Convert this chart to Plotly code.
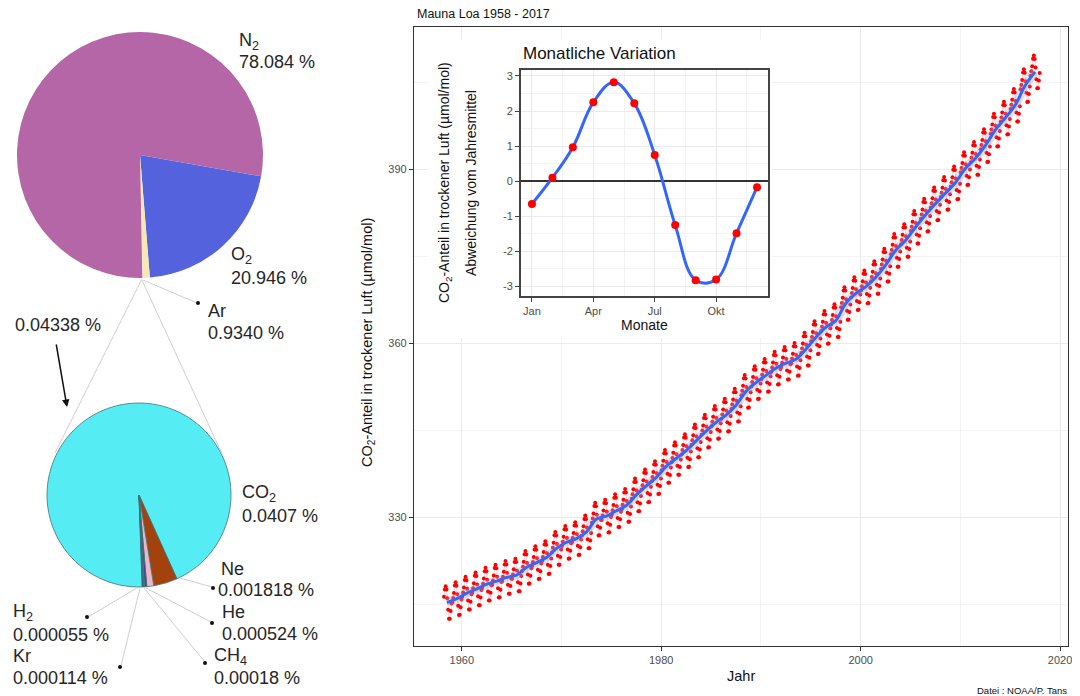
import plotly.graph_objects as go

# ---------------- data ----------------
years = list(range(1958, 2018))
annual_mean = [315.30, 315.97, 316.91, 317.64, 318.45, 318.99, 319.62, 320.04, 321.37, 322.18,
               323.05, 324.62, 325.68, 326.32, 327.46, 329.68, 330.19, 331.12, 332.03, 333.84,
               335.41, 336.84, 338.76, 340.12, 341.48, 343.15, 344.85, 346.35, 347.61, 349.31,
               351.69, 353.20, 354.45, 355.70, 356.54, 357.21, 358.96, 360.97, 362.74, 363.88,
               366.84, 368.54, 369.71, 371.32, 373.45, 375.98, 377.70, 379.98, 382.09, 384.02,
               385.83, 387.64, 390.10, 391.85, 394.06, 396.74, 398.81, 401.01, 404.41, 406.76]
months = list(range(1, 13))
seasonal = [-0.65, 0.10, 0.97, 2.25, 2.82, 2.22, 0.75, -1.25, -2.82, -2.80, -1.48, -0.17]
first_month_1958 = 3
month_ticks = [1, 4, 7, 10]
month_ticktext = ["Jan", "Apr", "Jul", "Okt"]

main_gases = ["O<sub>2</sub>", "Ar", "Rest", "N<sub>2</sub>"]
main_values = [20.946, 0.934, 0.04338, 78.084]
main_colors = ["#5562de", "#f6e7b4", "#fffbe8", "#b466a6"]

trace_gases = ["CO<sub>2</sub>", "Ne", "He", "CH<sub>4</sub>", "Kr", "H<sub>2</sub>"]
trace_values = [0.0407, 0.001818, 0.000524, 0.00018, 0.000114, 0.000055]
trace_colors = ["#56ecf3", "#a3420c", "#f3b5c6", "#3a48a8", "#6a56a0", "#27296e"]

# monthly series = annual mean + monthly deviation (both)
mx, my = [], []
for yr, am in zip(years, annual_mean):
    for m, dev in zip(months, seasonal):
        if yr == 1958 and m < first_month_1958:
            continue
        mx.append(yr + (m - 0.5) / 12)
        my.append(am + dev)
ax_years = [y + 0.5 for y in years]

FONT = "Liberation Sans, Arial, sans-serif"
OFF = 8.0                      # page offset of the figure (body margin)
FIG_W, FIG_H = 1072, 688
PANEL_L, PANEL_R, PANEL_T, PANEL_B = 414.0, 1068.0, 27.0, 646.0   # page pixels
M_L = 0
M_R = FIG_W - (PANEL_R - OFF)
M_T = PANEL_T - OFF
M_B = FIG_H - (PANEL_B - OFF)
W_PAPER = FIG_W - M_L - M_R
H_PAPER = FIG_H - M_T - M_B


def px(x):
    return (x - OFF - M_L) / W_PAPER


def py(y):
    return (PANEL_B - y) / H_PAPER


fig = go.Figure()

# ---------------- pies ----------------
fig.add_trace(go.Pie(values=main_values, labels=main_gases, sort=False, direction="clockwise",
                     rotation=100, textinfo="none", hoverinfo="label+value",
                     marker=dict(colors=main_colors, line=dict(width=0)),
                     domain=dict(x=[px(17), px(263)], y=[py(278), py(32)])))
fig.add_trace(go.Pie(values=trace_values, labels=trace_gases, sort=False, direction="clockwise",
                     rotation=178, textinfo="none", hoverinfo="label+value",
                     marker=dict(colors=trace_colors, line=dict(width=0.8, color="#3f7276")),
                     domain=dict(x=[px(47), px(231)], y=[py(587), py(403)])))

# ---------------- main chart ----------------
fig.add_trace(go.Scatter(x=mx, y=my, mode="lines", line=dict(color="rgba(235,130,150,0.35)", width=1),
                         hoverinfo="skip", xaxis="x", yaxis="y"))
fig.add_trace(go.Scatter(x=mx, y=my, mode="markers", marker=dict(color="#ff0000", size=4),
                         xaxis="x", yaxis="y"))
fig.add_trace(go.Scatter(x=ax_years, y=annual_mean, mode="lines",
                         line=dict(color="rgba(170,165,205,0.35)", width=9, shape="spline"),
                         hoverinfo="skip", xaxis="x", yaxis="y"))
fig.add_trace(go.Scatter(x=ax_years, y=annual_mean, mode="lines",
                         line=dict(color="#3366ff", width=3, shape="spline"),
                         xaxis="x", yaxis="y"))

# blank subplot whose background hides the main grid behind the inset
fig.add_trace(go.Scatter(x=[None], y=[None], mode="markers", hoverinfo="skip", xaxis="x2", yaxis="y2"))

# ---------------- inset ----------------
fig.add_trace(go.Scatter(x=months, y=seasonal, mode="lines",
                         line=dict(color="#3366ff", width=3, shape="spline", smoothing=1.1),
                         xaxis="x3", yaxis="y3"))
fig.add_trace(go.Scatter(x=months, y=seasonal, mode="markers", marker=dict(color="#ff0000", size=8),
                         xaxis="x3", yaxis="y3"))

tickfont = dict(family=FONT, size=11, color="#4d4d4d")
hidden = dict(visible=False, showgrid=False, zeroline=False, range=[0, 1], fixedrange=True)
fig.update_layout(
    width=FIG_W, height=FIG_H, margin=dict(l=M_L, r=M_R, t=M_T, b=M_B, pad=0),
    paper_bgcolor="white", plot_bgcolor="white", showlegend=False,
    font=dict(family=FONT, color="#222"),
    xaxis=dict(domain=[px(PANEL_L), 1.0], range=[1955.2, 2020.8], tickvals=[1960, 1980, 2000, 2020],
               showgrid=True, gridcolor="#ebebeb", gridwidth=1, zeroline=False,
               minor=dict(tickvals=[1970, 1990, 2010], showgrid=True, gridcolor="#f3f3f3", gridwidth=0.6),
               showline=True, mirror=True, linecolor="#333333", linewidth=1.2,
               ticks="outside", ticklen=4, tickcolor="#333333", tickfont=tickfont, anchor="y"),
    yaxis=dict(domain=[0, 1], range=[307.8, 414.5], tickvals=[330, 360, 390],
               showgrid=True, gridcolor="#ebebeb", gridwidth=1, zeroline=False,
               minor=dict(tickvals=[315, 345, 375, 405], showgrid=True, gridcolor="#f3f3f3", gridwidth=0.6),
               showline=True, mirror=True, linecolor="#333333", linewidth=1.2,
               ticks="outside", ticklen=4, tickcolor="#333333", tickfont=tickfont, anchor="x"),
    xaxis2=dict(domain=[px(428), px(772)], anchor="y2", **hidden),
    yaxis2=dict(domain=[py(338), py(40)], anchor="x2", **hidden),
    xaxis3=dict(domain=[px(520.7), px(768.3)], range=[0.45, 12.55], tickvals=month_ticks, ticktext=month_ticktext,
                showgrid=True, gridcolor="#ebebeb", gridwidth=1, zeroline=False,
                minor=dict(tickvals=[2.5, 5.5, 8.5, 11.5], showgrid=True, gridcolor="#f3f3f3", gridwidth=0.6),
                showline=True, mirror=True, linecolor="#444444", linewidth=1.5,
                ticks="outside", ticklen=4, tickcolor="#444444", tickfont=tickfont, anchor="y3"),
    yaxis3=dict(domain=[py(296), py(70)], range=[-3.27, 3.17], tickvals=[-3, -2, -1, 0, 1, 2, 3],
                ticktext=["-3", "-2", "-1", "0", "1", "2", "3"],
                showgrid=True, gridcolor="#ebebeb", gridwidth=1,
                zeroline=True, zerolinecolor="#333333", zerolinewidth=1.5,
                minor=dict(tickvals=[-2.5, -1.5, -0.5, 0.5, 1.5, 2.5], showgrid=True, gridcolor="#f3f3f3", gridwidth=0.6),
                showline=True, mirror=True, linecolor="#444444", linewidth=1.5,
                ticks="outside", ticklen=4, tickcolor="#444444", tickfont=tickfont, anchor="x3"),
)

shapes = []


def seg(x0, y0, x1, y1, color="#cfcfcf", width=1):
    shapes.append(dict(type="line", xref="paper", yref="paper", x0=px(x0), y0=py(y0), x1=px(x1), y1=py(y1),
                       line=dict(color=color, width=width), layer="above"))


def dot(x, y, r=2):
    shapes.append(dict(type="circle", xref="paper", yref="paper", xsizemode="pixel", ysizemode="pixel",
                       xanchor=px(x), yanchor=py(y), x0=-r, x1=r, y0=-r, y1=r,
                       fillcolor="#111", line=dict(width=0), layer="above"))


# zoom connector lines
seg(141.7, 279.5, 55, 453)
seg(141.7, 279.5, 223, 456)
# leader lines
seg(143, 280, 197, 303)
seg(180, 578, 212, 587)
seg(146, 588, 211, 622)
seg(144, 588, 205, 662)
seg(140, 588, 121, 666)
seg(137, 588, 88, 617)
for (dx_, dy_) in [(198, 303), (213, 588), (212, 623), (205, 663), (120, 667), (87, 617)]:
    dot(dx_, dy_)

annotations = []


def lab(x, y, text, size=18, xanchor="left", color="#262626", angle=0, yanchor="middle"):
    annotations.append(dict(x=px(x), y=py(y), xref="paper", yref="paper", text=text, showarrow=False,
                            xanchor=xanchor, yanchor=yanchor, textangle=angle,
                            font=dict(family=FONT, size=size, color=color)))


lab(237, 41, main_gases[3]); lab(237, 62, f"{main_values[3]:.3f} %")
lab(229, 256, main_gases[0]); lab(229, 278, f"{main_values[0]:.3f} %")
lab(206, 311, main_gases[1]); lab(206, 333, f"{main_values[1]:.4f} %")
lab(13, 325, f"{main_values[2]:.5f} %")
lab(240, 493, trace_gases[0]); lab(240, 516, f"{trace_values[0]:.4f} %")
lab(219, 569, trace_gases[1]); lab(216, 590, f"{trace_values[1]:.6f} %")
lab(220, 612, trace_gases[2]); lab(220, 634, f"{trace_values[2]:.6f} %")
lab(212, 656, trace_gases[3]); lab(212, 678, f"{trace_values[3]:.5f} %")
lab(11, 612, trace_gases[5]); lab(11, 635, f"{trace_values[5]:.6f} %")
lab(11, 656, trace_gases[4]); lab(11, 678, f"{trace_values[4]:.6f} %")

# arrow pointing to the trace-gas pie
annotations.append(dict(x=px(67), y=py(407), xref="paper", yref="paper", ax=-11, ay=-64, text="",
                        showarrow=True, arrowhead=2, arrowsize=1, arrowwidth=1.5, arrowcolor="#111"))

# main chart texts
lab(415, 14, "Mauna Loa 1958 - 2017", size=12.5, color="#111")
lab(368, 343, "CO<sub>2</sub>-Anteil in trockener Luft (µmol/mol)", size=14.5, xanchor="center", color="#111", angle=-90)
lab(741, 676, "Jahr", size=14.5, xanchor="center", color="#111")
lab(1069, 690, "Datei : NOAA/P. Tans", size=9.5, xanchor="right", color="#111")

# inset texts
lab(520.7, 54, "Monatliche Variation", size=17, color="#111")
lab(445, 183, "CO<sub>2</sub>-Anteil in trockener Luft (µmol/mol)", size=14, xanchor="center", color="#111", angle=-90)
lab(471, 183, "Abweichung vom Jahresmittel", size=14, xanchor="center", color="#111", angle=-90)
lab(644, 325, "Monate", size=14, xanchor="center", color="#111")

fig.update_layout(shapes=shapes, annotations=annotations)
fig.write_html("out.html")
